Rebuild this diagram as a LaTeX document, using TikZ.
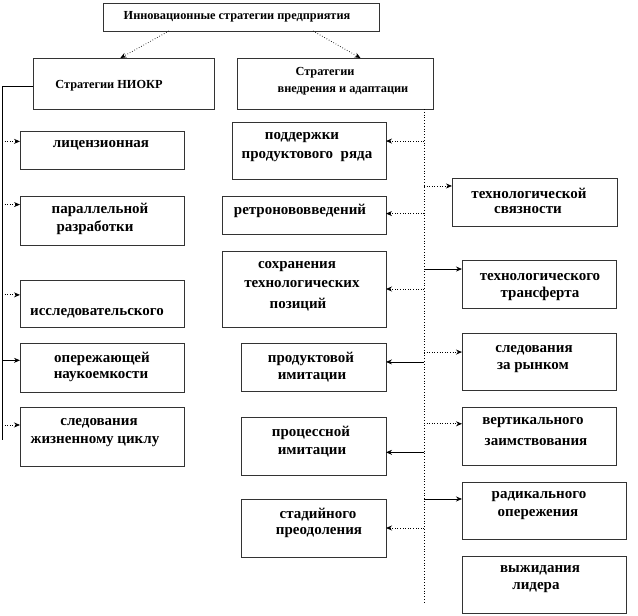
\documentclass[tikz,border=0pt]{standalone}
\usepackage{fontspec}
\setmainfont{Liberation Serif}
\usetikzlibrary{arrows.meta,shadows}
\tikzset{
  box/.style={draw=black!80, line width=0.6pt, fill=white, inner sep=0pt, outer sep=0pt,
    drop shadow={shadow xshift=1.1pt, shadow yshift=-1.1pt, fill=black, opacity=1}},
  txt/.style={inner sep=0pt, font=\fontsize{15}{17}\selectfont\bfseries},
  head/.style={inner sep=0pt, font=\fontsize{12.3}{14}\selectfont\bfseries},
  arr/.style={line width=0.6pt, -{Stealth[length=6pt,width=5pt]}},
  dots/.style={dotted, line width=0.8pt},
  plain/.style={line width=0.8pt}
}
\begin{document}
\begin{tikzpicture}[x=1pt,y=-1pt]
\useasboundingbox (0,0) rectangle (638,616);
% boxes
\node[box, minimum width=276pt, minimum height=28pt] (top) at (241,17) {};
\node[box, minimum width=181pt, minimum height=51pt] (niokr) at (123.5,83.5) {};
\node[box, minimum width=196pt, minimum height=51pt] (vnedr) at (335,83.5) {};
\node[box, minimum width=164pt, minimum height=38pt] (L1) at (102,150) {};
\node[box, minimum width=164pt, minimum height=49pt] (L2) at (102,220.5) {};
\node[box, minimum width=164pt, minimum height=47pt] (L3) at (102,303.5) {};
\node[box, minimum width=164pt, minimum height=49pt] (L4) at (102,367.5) {};
\node[box, minimum width=164pt, minimum height=59pt] (L5) at (102,436.5) {};
\node[box, minimum width=154pt, minimum height=57pt] (M1) at (309,150.5) {};
\node[box, minimum width=164pt, minimum height=38pt] (M2) at (304,215) {};
\node[box, minimum width=164pt, minimum height=76pt] (M3) at (304,289) {};
\node[box, minimum width=145pt, minimum height=48pt] (M4) at (313.5,367) {};
\node[box, minimum width=145pt, minimum height=58pt] (M5) at (313.5,446) {};
\node[box, minimum width=145pt, minimum height=58pt] (M6) at (313.5,528) {};
\node[box, minimum width=165pt, minimum height=48pt] (R1) at (534.5,202) {};
\node[box, minimum width=154pt, minimum height=48pt] (R2) at (539,284) {};
\node[box, minimum width=154pt, minimum height=57pt] (R3) at (539,361.5) {};
\node[box, minimum width=154pt, minimum height=58pt] (R4) at (539,436) {};
\node[box, minimum width=164pt, minimum height=57pt] (R5) at (544,510.5) {};
\node[box, minimum width=164pt, minimum height=57pt] (R6) at (544,584.5) {};
% texts
\node[head] (ttop) at (237,17) {Инновационные стратегии предприятия};
\node[head] (tniokr) at (109,86) {Стратегии НИОКР};
\node[head] (tv1) at (325,73) {Стратегии};
\node[head] (tv2) at (343,91) {внедрения и адаптации};
\node[txt] (tl1) at (101,145) {лицензионная};
\node[txt] (tl2a) at (100,210) {параллельной};
\node[txt] (tl2b) at (95,228) {разработки};
\node[txt] (tl3) at (97,313) {исследовательского};
\node[txt] (tl4a) at (102,359) {опережающей};
\node[txt] (tl4b) at (101,377) {наукоемкости};
\node[txt] (tl5a) at (99,423) {следования};
\node[txt] (tl5b) at (95,442) {жизненному циклу};
\node[txt] (tm1a) at (302,138) {поддержки};
\node[txt] (tm1b) at (307,157) {продуктового\ \ ряда};
\node[txt] (tm2) at (300,211) {ретронововведений};
\node[txt] (tm3a) at (297,267) {сохранения};
\node[txt] (tm3b) at (302,284) {технологических};
\node[txt] (tm3c) at (298,305) {позиций};
\node[txt] (tm4a) at (311,359) {продуктовой};
\node[txt] (tm4b) at (312,377) {имитации};
\node[txt] (tm5a) at (311,433) {процессной};
\node[txt] (tm5b) at (312,452) {имитации};
\node[txt] (tm6a) at (318,515) {стадийного};
\node[txt] (tm6b) at (319,533) {преодоления};
\node[txt] (tr1a) at (529,193) {технологической};
\node[txt] (tr1b) at (528,210) {связности};
\node[txt] (tr2a) at (540,277) {технологического};
\node[txt] (tr2b) at (540,294) {трансферта};
\node[txt] (tr3a) at (534,350) {следования};
\node[txt] (tr3b) at (533,368) {за рынком};
\node[txt] (tr4a) at (533,423) {вертикального};
\node[txt] (tr4b) at (536,442) {заимствования};
\node[txt] (tr5a) at (539,497) {радикального};
\node[txt] (tr5b) at (538,515) {опережения};
\node[txt] (tr6a) at (540,570) {выжидания};
\node[txt] (tr6b) at (536,588) {лидера};
% top arrows
\draw[arr,dots] (top.191.6) -- (niokr.97.8);
\draw[arr,dots] (top.-11.8) -- (vnedr.45.6);
% left trunk
\coordinate (lt) at (2,86);
\coordinate (lb) at (2,440);
\draw[plain] (niokr.west |- lt) -- (lt) -- (lb);
\draw[arr,dots] (lt |- L1.174.4) -- (L1.174.4);
\draw[arr,dots] (lt |- L2.169.3) -- (L2.169.3);
\draw[arr,dots] (lt |- L3.174.8) -- (L3.174.8);
\draw[arr,plain] (lt |- L4.175.5) -- (L4.175.5);
\draw[arr,dots] (lt |- L5.172.7) -- (L5.172.7);
% right trunk
\coordinate (vb) at (424,602);
\draw[dots] (vnedr.south -| vb) -- (vb);
\draw[arr,dots] (vb |- M1.7.0) -- (M1.7.0);
\draw[arr,dots] (vb |- M2.1.4) -- (M2.1.4);
\draw[arr,dots] (vb |- M3.0.7) -- (M3.0.7);
\draw[arr,plain] (vb |- M4.4.7) -- (M4.4.7);
\draw[arr,plain] (vb |- M5.-5.5) -- (M5.-5.5);
\draw[arr,dots] (vb |- M6.east) -- (M6.east);
\draw[arr,dots] (vb |- R1.169.7) -- (R1.169.7);
\draw[arr,plain] (vb |- R2.169.0) -- (R2.169.0);
\draw[arr,dots] (vb |- R3.173.0) -- (R3.173.0);
\draw[arr,dots] (vb |- R4.171.9) -- (R4.171.9);
\draw[arr,plain] (vb |- R5.172.0) -- (R5.172.0);
\end{tikzpicture}
\end{document}
